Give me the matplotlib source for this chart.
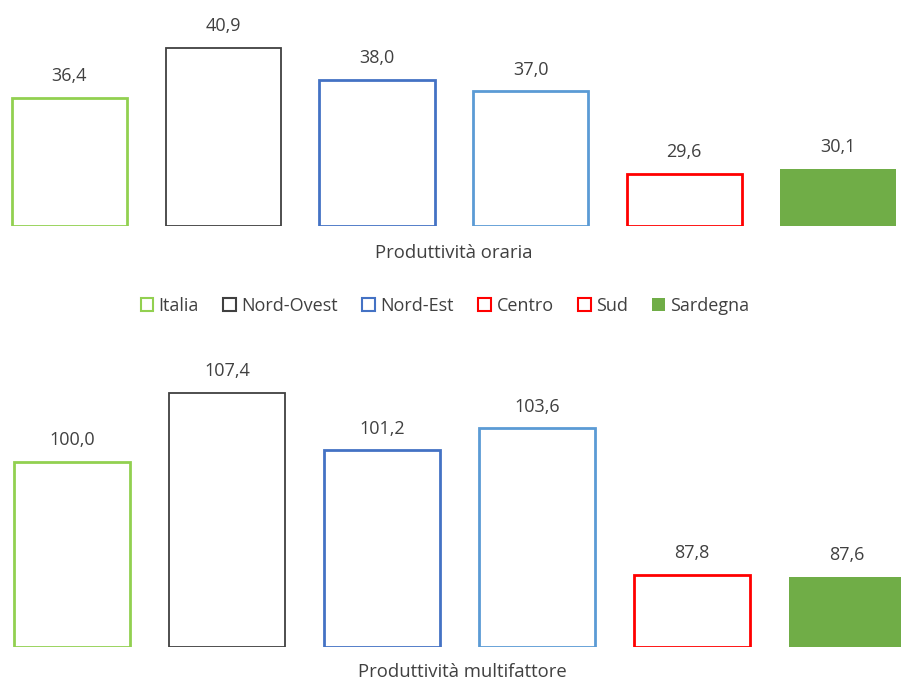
import matplotlib.pyplot as plt
from matplotlib.patches import Rectangle

# dati
regioni = ['Italia', 'Nord-Ovest', 'Nord-Est', 'Centro', 'Sud', 'Sardegna']
prod_oraria = [36.4, 40.9, 38.0, 37.0, 29.6, 30.1]
prod_multifattore = [100.0, 107.4, 101.2, 103.6, 87.8, 87.6]

# stile barre
bordi = ['#92D050', '#404040', '#4472C4', '#5B9BD5', '#FF0000', '#70AD47']
riempimenti = ['none', 'none', 'none', 'none', 'none', '#70AD47']
spessori = [2.0, 1.3, 2.0, 2.0, 2.0, 0.0]
# colori della legenda (come nell'originale)
bordi_legenda = ['#92D050', '#404040', '#4472C4', '#FF0000', '#FF0000', '#70AD47']

plt.rcParams['font.family'] = ['Open Sans', 'DejaVu Sans']
testo = '#404040'

fig = plt.figure(figsize=(9.01, 6.81), dpi=100)


def disegna(ax, valori, ylim, xlim, larghezza, titolo, x_titolo, y_titolo):
    x = range(len(valori))
    ax.bar(x, [v - ylim[0] for v in valori], bottom=ylim[0], width=larghezza,
           facecolor=riempimenti, edgecolor=bordi, linewidth=spessori)
    for i, v in enumerate(valori):
        ax.annotate(f"{v:.1f}".replace('.', ','), (i, v), xytext=(0, 12),
                    textcoords='offset points', ha='center', va='baseline',
                    fontsize=13, color=testo, annotation_clip=False)
    ax.set_ylim(*ylim)
    ax.set_xlim(*xlim)
    ax.axis('off')
    fig.text(x_titolo, y_titolo, titolo, ha='center', va='center', fontsize=13.3, color=testo)


ax1 = fig.add_axes([0, 0.6686, 1, 0.329])
disegna(ax1, prod_oraria, (25, 45), (-0.452, 5.41), 0.75,
        'Produttività oraria', 454 / 901, 1 - 253 / 681)

ax2 = fig.add_axes([0, 0.0499, 1, 0.4084])
disegna(ax2, prod_multifattore, (80, 110), (-0.4645, 5.348), 0.748,
        'Produttività multifattore', 462 / 901, 1 - 672 / 681)

maniglie = []
for r, b in zip(regioni, bordi_legenda):
    if r == 'Sardegna':
        maniglie.append(Rectangle((0, 0), 1, 1, facecolor=b, edgecolor=b, linewidth=0))
    else:
        maniglie.append(Rectangle((0, 0), 1, 1, facecolor='white', edgecolor=b, linewidth=1.5))

fig.legend(maniglie, regioni, loc='center', bbox_to_anchor=(445 / 901, 1 - 306 / 681),
           ncol=6, frameon=False, fontsize=13, labelcolor=testo,
           handlelength=0.7, handleheight=0.7, handletextpad=0.3, columnspacing=1.35)

plt.savefig('out.png', dpi=100)
